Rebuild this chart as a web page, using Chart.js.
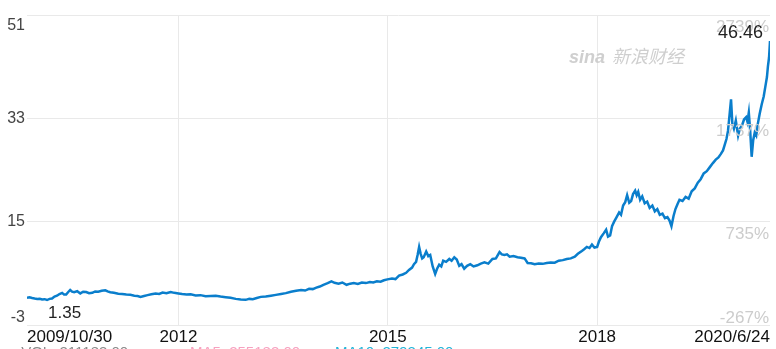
<!DOCTYPE html>
<html>
<head>
<meta charset="utf-8">
<script src="https://cdn.jsdelivr.net/npm/chart.js@4/dist/chart.umd.min.js"></script>
<style>
  html, body { margin: 0; padding: 0; background: #fff; }
  #wrap { width: 776px; height: 349px; position: relative; }
</style>
</head>
<body>
<div id="wrap"><canvas id="priceChart"></canvas></div>
<script>
// Price history, one row per year (approximate dates).
const dates = [
  '2009-10-30', '2009-11-12', '2009-11-26', '2009-12-09', '2009-12-22',
  '2010-01-05', '2010-01-17', '2010-01-30', '2010-02-12', '2010-02-25', '2010-03-10', '2010-03-23', '2010-04-05', '2010-04-18', '2010-05-02', '2010-05-12', '2010-05-23', '2010-06-03', '2010-06-13', '2010-06-23', '2010-07-04', '2010-07-20', '2010-08-05', '2010-08-20', '2010-09-05', '2010-09-20', '2010-10-07', '2010-10-22', '2010-11-07', '2010-11-25', '2010-12-14', '2010-12-26',
  '2011-01-09', '2011-01-28', '2011-02-20', '2011-03-12', '2011-04-03', '2011-04-24', '2011-05-15', '2011-06-01', '2011-06-16', '2011-07-05', '2011-07-23', '2011-08-12', '2011-09-03', '2011-09-22', '2011-10-10', '2011-10-30', '2011-11-21', '2011-12-10',
  '2012-01-01', '2012-01-20', '2012-02-12', '2012-03-05', '2012-03-31', '2012-04-25', '2012-05-22', '2012-06-18', '2012-07-14', '2012-08-08', '2012-09-04', '2012-09-30', '2012-10-27', '2012-11-22', '2012-12-18',
  '2013-01-06', '2013-01-24', '2013-02-14', '2013-03-07', '2013-04-02', '2013-04-29', '2013-05-25', '2013-06-21', '2013-07-16', '2013-08-12', '2013-09-08', '2013-10-04', '2013-10-25', '2013-11-15', '2013-12-04', '2013-12-23',
  '2014-01-10', '2014-01-29', '2014-02-20', '2014-03-12', '2014-03-28', '2014-04-18', '2014-05-08', '2014-05-30', '2014-06-18', '2014-07-07', '2014-07-28', '2014-08-18', '2014-09-08', '2014-09-29', '2014-10-17', '2014-11-05', '2014-11-24', '2014-12-12', '2014-12-30',
  '2015-01-23', '2015-02-10', '2015-03-01', '2015-03-20', '2015-04-07', '2015-04-22', '2015-05-08', '2015-05-18', '2015-05-29', '2015-06-06', '2015-06-14', '2015-06-22', '2015-06-30', '2015-07-08', '2015-07-21', '2015-08-01', '2015-08-11', '2015-08-24', '2015-09-06', '2015-09-16', '2015-09-27', '2015-10-08', '2015-10-18', '2015-11-02', '2015-11-19', '2015-12-01', '2015-12-15', '2015-12-28',
  '2016-01-10', '2016-01-22', '2016-02-05', '2016-02-20', '2016-03-08', '2016-03-25', '2016-04-14', '2016-05-02', '2016-05-21', '2016-06-10', '2016-07-02', '2016-07-20', '2016-08-08', '2016-08-20', '2016-09-03', '2016-09-16', '2016-09-30', '2016-10-20', '2016-11-10', '2016-11-28', '2016-12-17',
  '2017-01-02', '2017-01-20', '2017-02-08', '2017-03-01', '2017-03-22', '2017-04-12', '2017-05-03', '2017-05-24', '2017-06-14', '2017-07-05', '2017-07-26', '2017-08-16', '2017-09-06', '2017-09-22', '2017-10-13', '2017-10-25', '2017-11-08', '2017-11-22', '2017-12-05', '2017-12-18',
  '2018-01-01', '2018-01-10', '2018-01-21', '2018-02-05', '2018-02-17', '2018-02-27', '2018-03-10', '2018-03-20', '2018-03-31', '2018-04-13', '2018-04-26', '2018-05-06', '2018-05-17', '2018-05-28', '2018-06-07', '2018-06-18', '2018-06-28', '2018-07-08', '2018-07-19', '2018-07-27', '2018-08-04', '2018-08-14', '2018-08-25', '2018-09-07', '2018-09-20', '2018-10-03', '2018-10-17', '2018-10-30', '2018-11-12', '2018-11-25', '2018-12-09', '2018-12-22',
  '2019-01-04', '2019-01-15', '2019-01-25', '2019-02-05', '2019-02-15', '2019-02-25', '2019-03-08', '2019-03-24', '2019-04-09', '2019-04-25', '2019-05-11', '2019-05-27', '2019-06-12', '2019-06-27', '2019-07-13', '2019-07-29', '2019-08-14', '2019-08-30', '2019-09-14', '2019-09-28', '2019-10-11', '2019-10-22', '2019-11-01', '2019-11-09', '2019-11-17', '2019-11-25', '2019-12-03', '2019-12-10', '2019-12-18', '2019-12-28',
  '2020-01-09', '2020-01-18', '2020-01-30', '2020-02-09', '2020-02-20', '2020-02-27', '2020-03-05', '2020-03-12', '2020-03-20', '2020-03-28', '2020-04-05', '2020-04-13', '2020-04-21', '2020-05-01', '2020-05-12', '2020-05-22', '2020-06-02', '2020-06-08', '2020-06-13', '2020-06-19', '2020-06-24'
];
const prices = [
  1.75, 1.82, 1.70, 1.62, 1.55,
  1.58, 1.45, 1.50, 1.35, 1.55, 1.60, 1.95, 2.10, 2.40, 2.60, 2.30, 2.30, 2.75, 3.10, 2.80, 2.70, 2.90, 2.50, 2.80, 2.75, 2.55, 2.60, 2.85, 2.80, 2.95, 3.05, 2.85,
  2.70, 2.60, 2.45, 2.40, 2.30, 2.25, 2.10, 2.05, 1.90, 2.05, 2.20, 2.35, 2.50, 2.40, 2.65, 2.55, 2.75, 2.60,
  2.50, 2.40, 2.30, 2.35, 2.15, 2.20, 2.00, 2.05, 2.10, 1.95, 1.85, 1.75, 1.55, 1.45, 1.38,
  1.55, 1.50, 1.70, 1.90, 1.95, 2.10, 2.25, 2.40, 2.55, 2.80, 2.95, 3.10, 3.00, 3.30, 3.25, 3.50,
  3.70, 4.00, 4.30, 4.60, 4.35, 4.20, 4.40, 4.00, 4.20, 4.30, 4.15, 4.40, 4.30, 4.50, 4.40, 4.60, 4.55, 4.80, 4.95,
  5.10, 5.00, 5.60, 5.80, 6.10, 6.60, 7.00, 7.60, 8.00, 9.20, 10.60, 9.40, 8.60, 8.80, 9.80, 9.00, 9.20, 7.20, 5.90, 6.80, 7.50, 7.20, 8.20, 8.00, 8.50, 8.20, 8.80, 8.40,
  7.30, 7.60, 6.80, 7.30, 7.60, 7.20, 7.40, 7.70, 7.90, 7.70, 8.50, 8.60, 9.70, 9.30, 9.20, 9.30, 8.90, 9.00, 8.80, 8.70, 8.60,
  7.80, 7.75, 7.60, 7.70, 7.65, 7.80, 7.90, 7.85, 8.20, 8.30, 8.50, 8.60, 8.90, 9.40, 9.90, 10.20, 10.60, 10.40, 11.00, 10.50,
  10.60, 11.50, 12.30, 13.00, 13.60, 12.40, 12.60, 14.20, 15.00, 15.80, 16.60, 16.20, 17.80, 18.40, 19.60, 18.30, 18.60, 19.80, 20.40, 19.60, 20.20, 18.80, 19.40, 18.20, 18.50, 17.40, 17.80, 16.80, 17.20, 16.20, 16.40, 15.60,
  15.80, 15.20, 14.20, 16.00, 17.20, 18.00, 18.80, 18.60, 19.30, 19.00, 20.30, 20.80, 21.80, 22.40, 23.40, 23.80, 24.50, 25.20, 25.80, 26.20, 26.80, 27.40, 28.50, 29.40, 30.80, 33.50, 36.30, 32.00, 31.20, 32.60,
  30.00, 31.20, 31.80, 32.80, 33.20, 32.40, 34.00, 31.00, 26.30, 29.20, 30.50, 30.00, 32.00, 33.80, 35.50, 36.80, 39.00, 40.20, 42.00, 43.60, 46.46
];

const xTickDates = ['2009-10-30', '2012-01-01', '2015-01-01', '2018-01-01', '2020-06-24'];
const xTickLabels = ['2009/10/30', '2012', '2015', '2018', '2020/6/24'];
const yTickValues = [51, 33, 15, -3];
const yTickLabels = ['51', '33', '15', '-3'];
const pctTickLabels = ['2739%', '1737%', '735%', '-267%'];
const minLabel = '1.35';
const lastLabel = '46.46';
const legendTexts = ['\u2014 VOL: 211183.00', 'MA5: 255183.00', 'MA10: 279345.00'];
const legendColors = ['#8a8a8a', '#f7a1c0', '#22b4d8'];

const FONT = "'Liberation Sans', Arial, sans-serif";

// Axis labels, min/last price notes and the watermark are drawn by hand
// because the original puts them in odd places (inside the plot, edge-aligned).
const overlayPlugin = {
  id: 'overlay',
  beforeDatasetsDraw(chart) {
    const ctx = chart.ctx;
    ctx.save();
    ctx.fillStyle = '#cfcfcf';
    ctx.textBaseline = 'alphabetic';
    ctx.textAlign = 'left';
    ctx.font = "italic bold 18px 'Liberation Sans', Arial, sans-serif";
    ctx.fillText('sina', 569, 63);
    ctx.font = "italic 18px 'Noto Sans CJK SC', sans-serif";
    ctx.fillText('新浪财经', 612, 63);
    ctx.restore();
  },
  afterDraw(chart) {
    const ctx = chart.ctx;
    const xs = chart.scales.x;
    const ys = chart.scales.y;
    const area = chart.chartArea;
    ctx.save();

    // left price labels
    ctx.font = '16px ' + FONT;
    ctx.fillStyle = '#444';
    ctx.textAlign = 'right';
    yTickValues.forEach((v, i) => {
      const py = ys.getPixelForValue(v);
      if (i === 0) { ctx.textBaseline = 'top'; ctx.fillText(yTickLabels[i], area.left - 2, py + 3); }
      else if (i === yTickValues.length - 1) { ctx.textBaseline = 'alphabetic'; ctx.fillText(yTickLabels[i], area.left - 2, py - 3); }
      else { ctx.textBaseline = 'middle'; ctx.fillText(yTickLabels[i], area.left - 2, py); }
    });

    // right percentage labels, inside the plot
    ctx.font = '17px ' + FONT;
    ctx.fillStyle = '#cccccc';
    yTickValues.forEach((v, i) => {
      const py = ys.getPixelForValue(v);
      if (i === yTickValues.length - 1) { ctx.textBaseline = 'alphabetic'; ctx.fillText(pctTickLabels[i], area.right - 1, py - 2); }
      else { ctx.textBaseline = 'top'; ctx.fillText(pctTickLabels[i], area.right - 1, py + 4); }
    });

    // min and last price notes
    const minIdx = prices.indexOf(Math.min(...prices));
    const lastIdx = prices.length - 1;
    ctx.fillStyle = '#222';
    ctx.font = '17px ' + FONT;
    ctx.textAlign = 'left';
    ctx.textBaseline = 'top';
    ctx.fillText(minLabel, xs.getPixelForValue(Date.parse(dates[minIdx])) + 1, ys.getPixelForValue(prices[minIdx]) + 5);
    ctx.textAlign = 'right';
    ctx.textBaseline = 'alphabetic';
    ctx.font = '18px ' + FONT;
    ctx.fillText(lastLabel, xs.getPixelForValue(Date.parse(dates[lastIdx])) - 7, ys.getPixelForValue(prices[lastIdx]) - 3);

    // legend row, mostly cut off by the bottom edge
    ctx.font = '15px ' + FONT;
    ctx.textAlign = 'left';
    ctx.textBaseline = 'top';
    const legendX = [2, 190, 335];
    legendTexts.forEach((t, i) => {
      ctx.fillStyle = legendColors[i];
      ctx.fillText(t, legendX[i], 345);
    });
    ctx.restore();
  }
};

new Chart(document.getElementById('priceChart'), {
  type: 'line',
  data: {
    datasets: [{
      data: dates.map((d, i) => ({ x: Date.parse(d), y: prices[i] })),
      borderColor: '#0a7ecc',
      borderWidth: 2.5,
      pointRadius: 0,
      tension: 0,
      fill: false,
    }],
  },
  options: {
    responsive: true,
    maintainAspectRatio: false,
    animation: false,
    layout: { padding: { left: 27, right: 6, top: 15, bottom: 0 } },
    plugins: { legend: { display: false }, tooltip: { enabled: false } },
    scales: {
      x: {
        type: 'linear',
        min: Date.parse(xTickDates[0]),
        max: Date.parse(xTickDates[xTickDates.length - 1]),
        afterBuildTicks: (scale) => { scale.ticks = xTickDates.map((d) => ({ value: Date.parse(d) })); },
        ticks: {
          align: 'inner',
          autoSkip: false,
          maxRotation: 0,
          padding: 4,
          color: '#111',
          font: { size: 17, family: FONT, lineHeight: '16px' },
          callback: (value, index) => xTickLabels[index],
        },
        grid: {
          drawTicks: false,
          color: (ctx) => (ctx.index === 0 || ctx.index === xTickDates.length - 1 ? 'rgba(0,0,0,0)' : '#e9e9e9'),
        },
        border: { display: false },
      },
      y: {
        min: -3,
        max: 51,
        afterBuildTicks: (scale) => { scale.ticks = yTickValues.map((v) => ({ value: v })); },
        ticks: { display: false },
        grid: { drawTicks: false, color: '#e9e9e9' },
        border: { display: false },
      },
    },
  },
  plugins: [overlayPlugin],
});
</script>
</body>
</html>
